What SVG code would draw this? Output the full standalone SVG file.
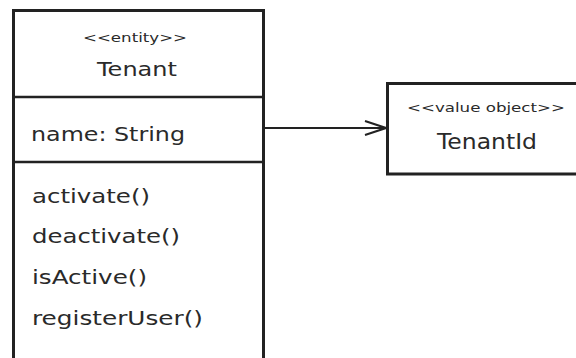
<svg xmlns="http://www.w3.org/2000/svg" width="576" height="358" viewBox="0 0 576 358">
<style>
.box{fill:#fff;stroke:#222;stroke-width:3}
.div{stroke:#222;stroke-width:2.5}
.edge{stroke:#222;stroke-width:2;fill:none}
text{font-family:"DejaVu Sans","Liberation Sans",sans-serif;fill:#2a2a2a}
.st{font-size:13px}
.nm{font-size:19px}
.mb{font-size:20px}
</style>
<defs>
<marker id="open" markerWidth="24" markerHeight="18" refX="22" refY="8" orient="auto" markerUnits="userSpaceOnUse">
<path d="M1,1 L22,8 L1,15" fill="none" stroke="#222" stroke-width="2"/>
</marker>
</defs>
<rect width="576" height="358" fill="#fff"/>
<g id="connectors">
<line class="edge" x1="265" y1="128" x2="386" y2="128" marker-end="url(#open)"/>
</g>
<g id="tenant">
<path class="box" d="M13.5,362 L13.5,10.5 L263.5,10.5 L263.5,362"/>
<line class="div" x1="13.5" y1="97" x2="263.5" y2="97"/>
<line class="div" x1="13.5" y1="162" x2="263.5" y2="162"/>
<text class="st" x="135" y="42" text-anchor="middle" textLength="104" lengthAdjust="spacingAndGlyphs">&lt;&lt;entity&gt;&gt;</text>
<text class="nm" x="137" y="76" text-anchor="middle" textLength="80" lengthAdjust="spacingAndGlyphs">Tenant</text>
<text class="mb" x="31" y="141" textLength="154" lengthAdjust="spacingAndGlyphs">name: String</text>
<text class="mb" x="32" y="203" textLength="118" lengthAdjust="spacingAndGlyphs">activate()</text>
<text class="mb" x="32" y="243" textLength="148" lengthAdjust="spacingAndGlyphs">deactivate()</text>
<text class="mb" x="32" y="284" textLength="115" lengthAdjust="spacingAndGlyphs">isActive()</text>
<text class="mb" x="32" y="325" textLength="171" lengthAdjust="spacingAndGlyphs">registerUser()</text>
</g>
<g id="tenantId">
<path class="box" d="M580,83.5 L387.5,83.5 L387.5,174 L580,174"/>
<text class="st" x="486" y="112" text-anchor="middle" textLength="158" lengthAdjust="spacingAndGlyphs">&lt;&lt;value object&gt;&gt;</text>
<text class="nm" x="487" y="149" text-anchor="middle" font-size="22" style="font-size:22px" textLength="100" lengthAdjust="spacingAndGlyphs">TenantId</text>
</g>
</svg>
